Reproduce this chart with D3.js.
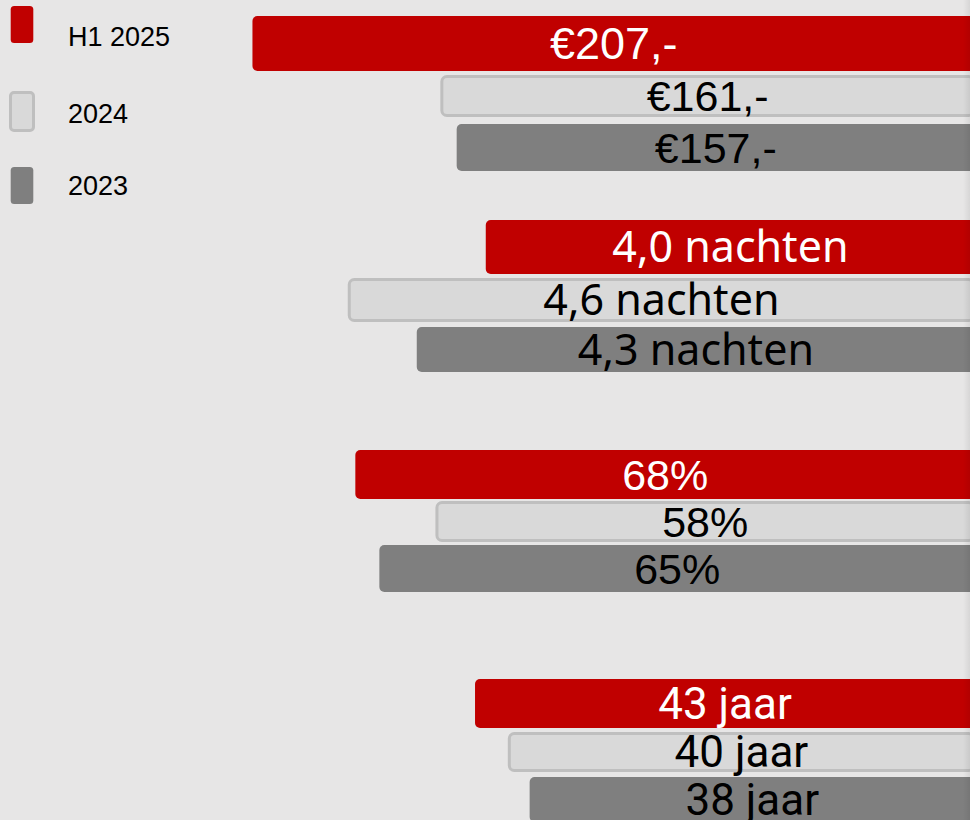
<!DOCTYPE html>
<html>
<head>
<meta charset="utf-8">
<script src="https://cdn.jsdelivr.net/npm/d3@7"></script>
<style>
  html, body { margin: 0; padding: 0; background: #e7e6e6; overflow: hidden; }
  svg { display: block; }
</style>
</head>
<body>
<svg id="chart" width="970" height="820"></svg>
<script>
// ---- DATA ----
const categories = ["besteding", "nachten", "aandeel", "leeftijd"];
const seriesNames = ["H1 2025", "2024", "2023"];
const valuesH1_2025 = [207, 4.0, 68, 43];
const values2024 = [161, 4.6, 58, 40];
const values2023 = [157, 4.3, 65, 38];
// per-category value domains used by each category's scale
const scaleDomains = [[30.1, 207.6], [1.873, 5.025], [-9.36, 81.15], [-2.77, 63.6]];

// ---- FORMATS ----
const nl1 = v => v.toFixed(1).replace(".", ",");
const formats = [
  v => "€" + v + ",-",
  v => nl1(v) + " nachten",
  v => v + "%",
  v => v + " jaar"
];

// ---- STYLE / LAYOUT ----
const W = 970, H = 820;
const barRight = 975, barLeftRange = 250;
const seriesFill = ["#c00000", "#d9d9d9", "#7f7f7f"];
const seriesStroke = [null, "#bfbfbf", null];
const textFill = ["#ffffff", "#000000", "#000000"];
const labelFont = [
  "'Liberation Sans', Arial, sans-serif",
  "'Noto Sans', sans-serif",
  "'Liberation Sans', Arial, sans-serif",
  "Roboto, sans-serif"
];
const labelSize = [[45, 43, 43], [43, 43, 43], [43, 43, 43], [44, 44, 44]];
// bar vertical extents [top, bottom] per category, per series
const rowBands = [
  [[16, 71], [75, 117], [124, 171]],
  [[220, 274], [278, 322], [327, 372]],
  [[450, 499], [501, 542], [545, 592]],
  [[679, 728], [732, 772], [777, 822]]
];

const svg = d3.select("#chart");
svg.append("rect").attr("width", W).attr("height", H).attr("fill", "#e7e6e6");

const allSeries = [valuesH1_2025, values2024, values2023];

categories.forEach((cat, ci) => {
  const x = d3.scaleLinear().domain(scaleDomains[ci]).range([barRight, barLeftRange]);
  const rows = allSeries.map((vals, si) => ({ si, v: vals[ci] }));
  const g = svg.append("g").attr("class", "cat-" + cat);

  g.selectAll("rect").data(rows).join("rect")
    .attr("x", d => x(d.v) + (seriesStroke[d.si] ? 1.5 : 0))
    .attr("y", d => rowBands[ci][d.si][0] + (seriesStroke[d.si] ? 1.5 : 0))
    .attr("width", d => barRight - x(d.v) - (seriesStroke[d.si] ? 3 : 0))
    .attr("height", d => rowBands[ci][d.si][1] - rowBands[ci][d.si][0] - (seriesStroke[d.si] ? 3 : 0))
    .attr("rx", 5).attr("ry", 5)
    .attr("fill", d => seriesFill[d.si])
    .attr("stroke", d => seriesStroke[d.si] || "none")
    .attr("stroke-width", 3);

  g.selectAll("text").data(rows).join("text")
    .attr("x", d => (x(d.v) + barRight) / 2)
    .attr("y", d => (rowBands[ci][d.si][0] + rowBands[ci][d.si][1]) / 2)
    .attr("dy", "0.35em")
    .attr("text-anchor", "middle")
    .attr("font-family", labelFont[ci])
    .attr("font-size", d => labelSize[ci][d.si])
    .attr("fill", d => textFill[d.si])
    .text(d => formats[ci](d.v));
});

// ---- LEGEND ----
const legendSw = [[6, 43], [92.5, 130.5], [167, 204]];
const legendBase = [45.5, 123, 195];
const lg = svg.append("g").attr("class", "legend");
lg.selectAll("rect").data(seriesNames).join("rect")
  .attr("x", (d, i) => seriesStroke[i] ? 10.5 : 10.7)
  .attr("y", (d, i) => legendSw[i][0])
  .attr("width", (d, i) => seriesStroke[i] ? 23 : 22.6)
  .attr("height", (d, i) => legendSw[i][1] - legendSw[i][0])
  .attr("rx", 3.5)
  .attr("fill", (d, i) => seriesFill[i])
  .attr("stroke", (d, i) => seriesStroke[i] || "none")
  .attr("stroke-width", 3);
lg.selectAll("text").data(seriesNames).join("text")
  .attr("x", 68)
  .attr("y", (d, i) => legendBase[i])
  .attr("font-family", "'Liberation Sans', Arial, sans-serif")
  .attr("font-size", 27)
  .attr("fill", "#000")
  .text(d => d);

// subtle right-edge shade
const defs = svg.append("defs");
const grad = defs.append("linearGradient").attr("id", "edge").attr("x1", 0).attr("x2", 1);
grad.append("stop").attr("offset", 0).attr("stop-color", "#000").attr("stop-opacity", 0);
grad.append("stop").attr("offset", 1).attr("stop-color", "#000").attr("stop-opacity", 0.07);
svg.append("rect").attr("x", 963).attr("y", 0).attr("width", 7).attr("height", H).attr("fill", "url(#edge)");
</script>
</body>
</html>
